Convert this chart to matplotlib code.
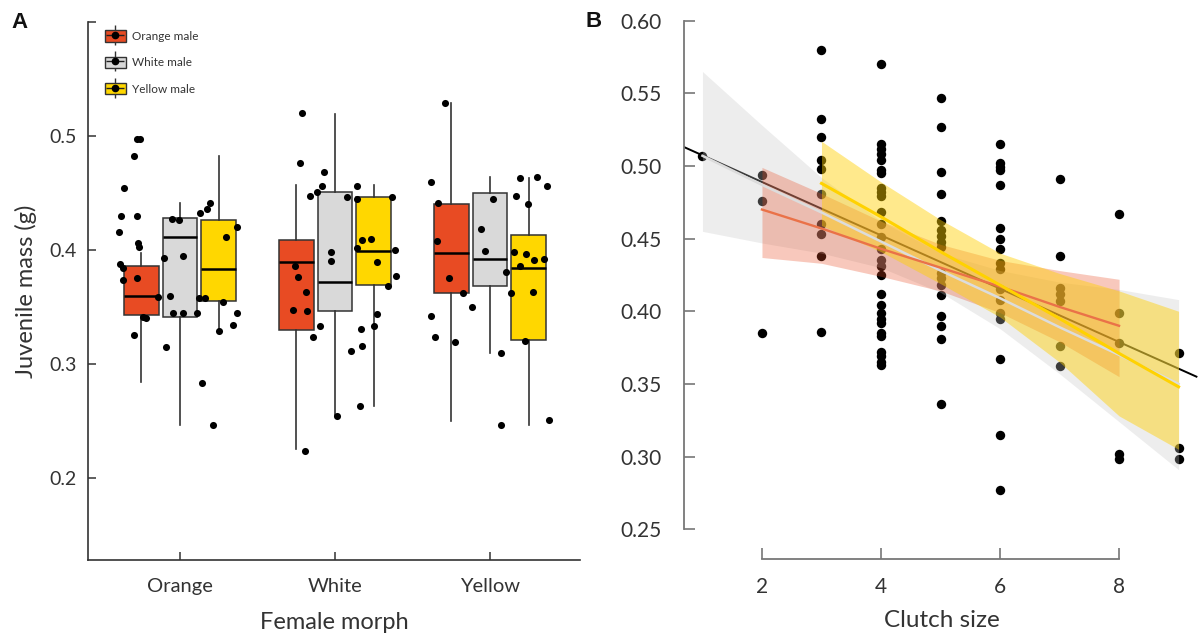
import matplotlib
matplotlib.use("Agg")
import matplotlib.pyplot as plt
from matplotlib.patches import Patch
from matplotlib.lines import Line2D
from matplotlib.legend_handler import HandlerTuple

plt.rcParams['font.family'] = ['Lato', 'DejaVu Sans']

# ---------------- panel A data ----------------
female_morphs = ["Orange", "White", "Yellow"]
male_morphs = ["Orange male", "White male", "Yellow male"]
male_colors = ["#E84B23", "#D9D9D9", "#FFD700"]

# (whislo, q1, med, q3, whishi) for orange / white / yellow male within each female morph
box_orange_f = [(0.284, 0.343, 0.360, 0.386, 0.397),
                (0.246, 0.341, 0.411, 0.428, 0.441),
                (0.327, 0.355, 0.383, 0.426, 0.482)]
box_white_f = [(0.225, 0.330, 0.389, 0.409, 0.457),
               (0.254, 0.346, 0.372, 0.451, 0.519),
               (0.263, 0.369, 0.399, 0.446, 0.457)]
box_yellow_f = [(0.250, 0.362, 0.397, 0.440, 0.529),
                (0.310, 0.368, 0.392, 0.450, 0.464),
                (0.246, 0.321, 0.384, 0.413, 0.463)]

# raw (jittered) points
pts_orange_x = [0.723, 0.742, 0.703, 0.639, 0.619, 0.723, 0.606, 0.729, 0.735, 0.613,
                0.632, 0.632, 0.723, 0.948, 0.994, 0.897, 1.019, 1.129, 1.174, 1.194,
                1.297, 1.368, 0.761, 0.781, 0.858, 0.935, 0.955, 1.019, 1.110, 1.123,
                1.161, 1.277, 1.368, 0.703, 0.910, 1.142, 1.213, 1.252, 1.342]
pts_orange_y = [0.497, 0.497, 0.482, 0.454, 0.430, 0.430, 0.416, 0.406, 0.403, 0.388,
                0.384, 0.374, 0.375, 0.427, 0.426, 0.393, 0.395, 0.432, 0.436, 0.441,
                0.411, 0.420, 0.341, 0.340, 0.359, 0.360, 0.345, 0.345, 0.345, 0.358,
                0.358, 0.354, 0.345, 0.325, 0.315, 0.283, 0.246, 0.329, 0.334]
pts_white_x = [1.787, 1.774, 1.929, 1.916, 1.839, 1.884, 1.742, 1.761, 1.813, 1.729,
               1.819, 1.858, 1.903, 1.806, 1.974, 1.974, 2.013, 2.077, 2.142, 2.142,
               2.174, 2.232, 2.142, 2.271, 2.368, 2.387, 2.394, 2.342, 2.271, 2.252,
               2.103, 2.168, 2.174, 2.161]
pts_white_y = [0.520, 0.476, 0.468, 0.456, 0.447, 0.451, 0.386, 0.376, 0.363, 0.347,
               0.346, 0.324, 0.333, 0.224, 0.398, 0.390, 0.254, 0.446, 0.456, 0.445,
               0.409, 0.410, 0.402, 0.389, 0.446, 0.400, 0.377, 0.368, 0.344, 0.333,
               0.311, 0.331, 0.316, 0.263]
pts_yellow_x = [2.710, 2.619, 2.665, 2.658, 2.735, 2.826, 2.884, 2.619, 2.645, 2.774,
                3.019, 2.942, 2.968, 3.103, 3.071, 3.071, 3.194, 3.303, 3.368, 3.168,
                3.245, 3.155, 3.232, 3.284, 3.348, 3.194, 3.135, 3.277, 3.226, 3.381]
pts_yellow_y = [0.529, 0.460, 0.441, 0.408, 0.375, 0.362, 0.350, 0.342, 0.324, 0.319,
                0.445, 0.418, 0.399, 0.381, 0.310, 0.246, 0.463, 0.464, 0.456, 0.447,
                0.440, 0.398, 0.396, 0.391, 0.392, 0.386, 0.362, 0.363, 0.320, 0.251]

# ---------------- panel B data ----------------
mass_c1 = [0.507]
mass_c2 = [0.494, 0.476, 0.385]
mass_c3 = [0.580, 0.532, 0.520, 0.504, 0.498, 0.481, 0.460, 0.453, 0.438, 0.386]
mass_c4 = [0.570, 0.515, 0.512, 0.508, 0.504, 0.497, 0.495, 0.485, 0.482, 0.479,
           0.468, 0.460, 0.451, 0.443, 0.435, 0.431, 0.425, 0.412, 0.404, 0.399,
           0.395, 0.392, 0.385, 0.383, 0.372, 0.369, 0.365, 0.363]
mass_c5 = [0.547, 0.527, 0.496, 0.481, 0.462, 0.456, 0.452, 0.448, 0.444, 0.426,
           0.423, 0.418, 0.411, 0.397, 0.390, 0.381, 0.336]
mass_c6 = [0.515, 0.502, 0.499, 0.497, 0.487, 0.457, 0.450, 0.443, 0.433, 0.429,
           0.415, 0.408, 0.399, 0.395, 0.367, 0.315, 0.277]
mass_c7 = [0.491, 0.438, 0.416, 0.412, 0.407, 0.376, 0.362]
mass_c8 = [0.467, 0.399, 0.378, 0.302, 0.298]
mass_c9 = [0.371, 0.306, 0.298]

# fitted lines (end points) and confidence bands
all_fit_x = [0.69, 9.3]
all_fit_y = [0.513, 0.355]

white_x = [1, 2, 3, 4, 5, 6, 7, 8, 9]
white_line = [0.507, 0.487, 0.468, 0.448, 0.428, 0.409, 0.389, 0.370, 0.350]
white_hi = [0.565, 0.528, 0.492, 0.462, 0.440, 0.428, 0.420, 0.415, 0.408]
white_lo = [0.455, 0.447, 0.440, 0.430, 0.413, 0.388, 0.357, 0.324, 0.291]

orange_x = [2, 3, 4, 5, 6, 7, 8]
orange_line = [0.470, 0.457, 0.443, 0.430, 0.417, 0.403, 0.390]
orange_hi = [0.499, 0.481, 0.462, 0.446, 0.435, 0.428, 0.422]
orange_lo = [0.437, 0.433, 0.424, 0.414, 0.399, 0.379, 0.355]

yellow_x = [3, 4, 5, 6, 7, 8, 9]
yellow_line = [0.488, 0.465, 0.441, 0.418, 0.395, 0.371, 0.348]
yellow_hi = [0.517, 0.489, 0.463, 0.440, 0.426, 0.414, 0.400]
yellow_lo = [0.459, 0.441, 0.419, 0.396, 0.365, 0.328, 0.305]

txt = "#333333"

fig = plt.figure(figsize=(12, 6.38), dpi=100)
axA = fig.add_axes([0.0733, 0.1223, 0.41, 0.8433])
axB = fig.add_axes([0.57, 0.1238, 0.43, 0.845])

# ---------- A ----------
offsets = [-0.25, 0.0, 0.25]
all_boxes = [box_orange_f, box_white_f, box_yellow_f]
for gi, group in enumerate(all_boxes):
    for mi, (lo, q1, med, q3, hi) in enumerate(group):
        st = [dict(whislo=lo, q1=q1, med=med, q3=q3, whishi=hi, fliers=[])]
        axA.bxp(st, positions=[gi + 1 + offsets[mi]], widths=0.225,
                patch_artist=True, showcaps=False, showfliers=False,
                boxprops=dict(facecolor=male_colors[mi], edgecolor="#333333", linewidth=1.1),
                whiskerprops=dict(color="#333333", linewidth=1.2),
                medianprops=dict(color="black", linewidth=1.8),
                zorder=2)

axA.scatter(pts_orange_x, pts_orange_y, s=26, color="black", zorder=3, linewidths=0)
axA.scatter(pts_white_x, pts_white_y, s=26, color="black", zorder=3, linewidths=0)
axA.scatter(pts_yellow_x, pts_yellow_y, s=26, color="black", zorder=3, linewidths=0)

axA.set_xlim(0.406, 3.58)
axA.set_ylim(0.128, 0.600)
axA.set_xticks([1, 2, 3])
axA.set_xticklabels(female_morphs)
axA.set_yticks([0.2, 0.3, 0.4, 0.5, 0.6])
axA.set_yticklabels(["0.2", "0.3", "0.4", "0.5", ""])
axA.spines["top"].set_visible(False)
axA.spines["right"].set_visible(False)
for s in ["left", "bottom"]:
    axA.spines[s].set_color("#333333")
    axA.spines[s].set_linewidth(1.2)
axA.tick_params(axis="y", direction="in", length=6, width=1.1, color="#333333",
                labelsize=14, labelcolor=txt, pad=8)
axA.tick_params(axis="x", direction="in", length=6, width=1.1, color="#333333",
                labelsize=14.5, labelcolor=txt, pad=13)
axA.set_xlabel("Female morph", fontsize=17, color=txt, labelpad=12)
axA.set_ylabel("Juvenile mass (g)", fontsize=17, color=txt, labelpad=9)

handles = []
for c in male_colors:
    handles.append((Line2D([], [], color="#333333", marker="|", markersize=15,
                           markeredgewidth=1.0, linestyle="None"),
                    Patch(facecolor=c, edgecolor="#333333", linewidth=1.0),
                    Line2D([], [], color="#222222", marker="_", markersize=13,
                           markeredgewidth=1.0, linestyle="None"),
                    Line2D([], [], color="black", marker="o", markersize=4.5,
                           linestyle="None")))
axA.legend(handles, male_morphs, handler_map={tuple: HandlerTuple(ndivide=1, pad=0)},
           loc="upper left", bbox_to_anchor=(0.018, 1.0), frameon=False,
           fontsize=8.5, handlelength=1.75, handleheight=1.1, labelspacing=1.25,
           handletextpad=0.55, borderaxespad=0.3, labelcolor=txt)

# ---------- B ----------
clutch = ([1] * len(mass_c1) + [2] * len(mass_c2) + [3] * len(mass_c3) +
          [4] * len(mass_c4) + [5] * len(mass_c5) + [6] * len(mass_c6) +
          [7] * len(mass_c7) + [8] * len(mass_c8) + [9] * len(mass_c9))
mass = mass_c1 + mass_c2 + mass_c3 + mass_c4 + mass_c5 + mass_c6 + mass_c7 + mass_c8 + mass_c9

axB.scatter(clutch, mass, s=46, color="black", linewidths=0, zorder=1)
axB.plot(all_fit_x, all_fit_y, color="black", linewidth=1.4, zorder=1.5)

axB.fill_between(white_x, white_lo, white_hi, color="#C4C4C4", alpha=0.3, linewidth=0, zorder=2)
axB.fill_between(orange_x, orange_lo, orange_hi, color="#E84B23", alpha=0.3, linewidth=0, zorder=2.1)
axB.fill_between(yellow_x, yellow_lo, yellow_hi, color="#FFD000", alpha=0.45, linewidth=0, zorder=2.2)

axB.plot(white_x, white_line, color="#DCDCDC", linewidth=1.8, zorder=3)
axB.plot(orange_x, orange_line, color="#EA7248", linewidth=1.7, zorder=3.1)
axB.plot(yellow_x, yellow_line, color="#FFD200", linewidth=2.2, zorder=3.2)

axB.set_xlim(0.69, 9.36)
axB.set_ylim(0.2295, 0.6005)
axB.set_xticks([2, 4, 6, 8])
axB.set_yticks([0.25, 0.30, 0.35, 0.40, 0.45, 0.50, 0.55, 0.60])
axB.set_yticklabels(["0.25", "0.30", "0.35", "0.40", "0.45", "0.50", "0.55", "0.60"])
axB.spines["top"].set_visible(False)
axB.spines["right"].set_visible(False)
axB.spines["left"].set_bounds(0.25, 0.60)
axB.spines["bottom"].set_bounds(2, 8)
for s in ["left", "bottom"]:
    axB.spines[s].set_color("#777777")
    axB.spines[s].set_linewidth(1.3)
axB.tick_params(axis="both", direction="in", length=8, width=1.2, color="#777777",
                labelsize=15, labelcolor=txt)
axB.tick_params(axis="y", pad=16)
axB.tick_params(axis="x", pad=13)
axB.set_xlabel("Clutch size", fontsize=17.5, color=txt, labelpad=9)

fig.text(0.016, 0.965, "A", fontsize=16, fontweight="bold", ha="center", va="center",
         color="#111111", family=["Liberation Sans", "DejaVu Sans"])
fig.text(0.495, 0.967, "B", fontsize=16, fontweight="bold", ha="center", va="center",
         color="#111111", family=["Liberation Sans", "DejaVu Sans"])

fig.savefig("out.png", dpi=100)
